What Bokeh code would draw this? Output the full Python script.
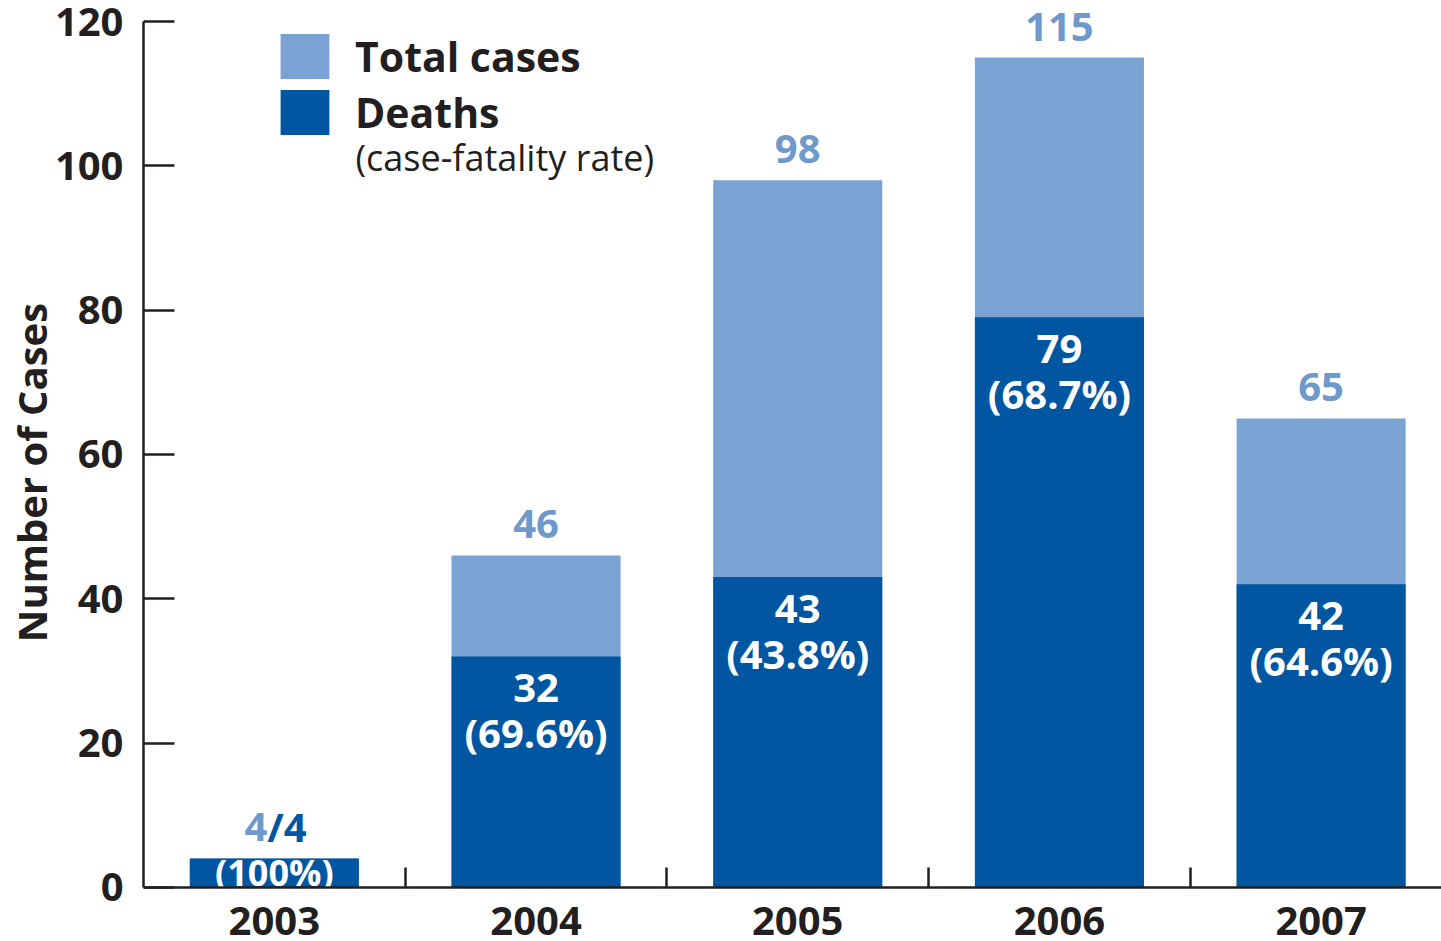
from bokeh.plotting import figure
from bokeh.models import (Range1d, FixedTicker, ColumnDataSource, Legend, LegendItem, Label)
from bokeh.core.properties import value
from bokeh.embed import file_html
from bokeh.resources import INLINE

years = ["2003", "2004", "2005", "2006", "2007"]
total_cases = [4, 46, 98, 115, 65]
deaths = [4, 32, 43, 79, 42]
fatality = ["(100%)", "(69.6%)", "(43.8%)", "(68.7%)", "(64.6%)"]
y_ticks = [0, 20, 40, 60, 80, 100, 120]

LIGHT = "#7AA2D3"
DARK = "#0056A0"
LABEL_LIGHT = "#6F98CB"
INK = "#231F20"
FONT = "Open Sans"
FS = "40px"

xs = [i + 0.5 for i in range(len(years))]

src = ColumnDataSource(dict(x=xs, total=total_cases, deaths=deaths))
src_rest = ColumnDataSource(dict(
    x=xs[1:], total=total_cases[1:], deaths=deaths[1:], rate=fatality[1:],
    total_txt=[str(v) for v in total_cases[1:]],
    deaths_txt=[str(v) for v in deaths[1:]],
))
src_first = ColumnDataSource(dict(
    x=xs[:1], total=total_cases[:1], rate=fatality[:1],
    t1=[str(total_cases[0])], t2=["/" + str(deaths[0])], half=[deaths[0] / 2],
))

p = figure(width=1441, height=941, output_backend="svg", toolbar_location=None,
           x_range=Range1d(0, 4.96), y_range=Range1d(-7.5, 122.5),
           min_border_left=143, min_border_top=3, min_border_bottom=0, min_border_right=0)
p.outline_line_color = None
p.grid.grid_line_color = None
p.background_fill_color = "white"
p.border_fill_color = "white"

bw = 0.646
r_total = p.vbar(x="x", top="total", bottom=0, width=bw, source=src,
                 fill_color=LIGHT, line_color=None)
r_deaths = p.vbar(x="x", top="deaths", bottom=0, width=bw, source=src,
                  fill_color=DARK, line_color=None)

common = dict(text_align="center", text_baseline="middle",
              text_font=value(FONT), text_font_style="bold", text_font_size=FS)
p.text(x="x", y="total", text="total_txt", source=src_rest, y_offset=-31,
       text_color=LABEL_LIGHT, **common)
p.text(x="x", y="deaths", text="deaths_txt", source=src_rest, y_offset=32,
       text_color="white", **common)
p.text(x="x", y="deaths", text="rate", source=src_rest, y_offset=76,
       text_color="white", **common)
# 2003 special labels
p.text(x="x", y="total", text="t1", source=src_first, text_align="right",
       text_baseline="middle", y_offset=-32, x_offset=-7, text_color=LABEL_LIGHT,
       text_font=value(FONT), text_font_style="bold", text_font_size=FS)
p.text(x="x", y="total", text="t2", source=src_first, text_align="left",
       text_baseline="middle", y_offset=-32, x_offset=-7, text_color=DARK,
       text_font=value(FONT), text_font_style="bold", text_font_size=FS)
p.text(x="x", y="half", text="rate", source=src_first, text_align="center",
       text_baseline="middle", y_offset=0, text_color="white",
       text_font=value(FONT), text_font_style="bold", text_font_size="36px")

# y axis
ya = p.yaxis[0]
ya.ticker = FixedTicker(ticks=y_ticks)
ya.bounds = (0, 120)
ya.major_tick_in = 31
ya.major_tick_out = 0
ya.minor_tick_line_color = None
ya.axis_line_width = 2.5
ya.axis_line_color = INK
ya.major_tick_line_width = 2.5
ya.major_tick_line_color = INK
ya.major_label_text_font = FONT
ya.major_label_text_font_style = "bold"
ya.major_label_text_font_size = FS
ya.major_label_text_color = INK
ya.major_label_standoff = 20
ya.axis_label = "Number of Cases"
ya.axis_label_text_font = FONT
ya.axis_label_text_font_style = "bold"
ya.axis_label_text_font_size = FS
ya.axis_label_text_color = INK
ya.axis_label_standoff = -7

# x axis
xa = p.xaxis[0]
xa.fixed_location = 0
xa.ticker = FixedTicker(ticks=xs, minor_ticks=[1, 2, 3, 4])
xa.major_label_overrides = {x: y for x, y in zip(xs, years)}
xa.major_tick_in = 0
xa.major_tick_out = 0
xa.minor_tick_in = 20
xa.minor_tick_out = 0
xa.minor_tick_line_width = 2.5
xa.minor_tick_line_color = INK
xa.axis_line_width = 2.5
xa.axis_line_color = INK
xa.major_label_text_font = FONT
xa.major_label_text_font_style = "bold"
xa.major_label_text_font_size = FS
xa.major_label_text_color = INK
xa.major_label_standoff = 20

legend = Legend(items=[LegendItem(label="Total cases", renderers=[r_total]),
                       LegendItem(label="Deaths", renderers=[r_deaths])],
                location=(131, 801), glyph_width=61, glyph_height=56, spacing=-5,
                label_standoff=20, padding=0, margin=0,
                border_line_color=None, background_fill_alpha=0,
                label_text_font=FONT, label_text_font_style="bold",
                label_text_font_size="41px", label_text_color=INK,
                label_height=56)
p.add_layout(legend)

p.add_layout(Label(x=212, y=784, x_units="screen", y_units="screen",
                   text="(case-fatality rate)", text_font=FONT, text_font_size="36px",
                   text_baseline="middle", text_color=INK))

open("out.html", "w").write(file_html(p, INLINE))
